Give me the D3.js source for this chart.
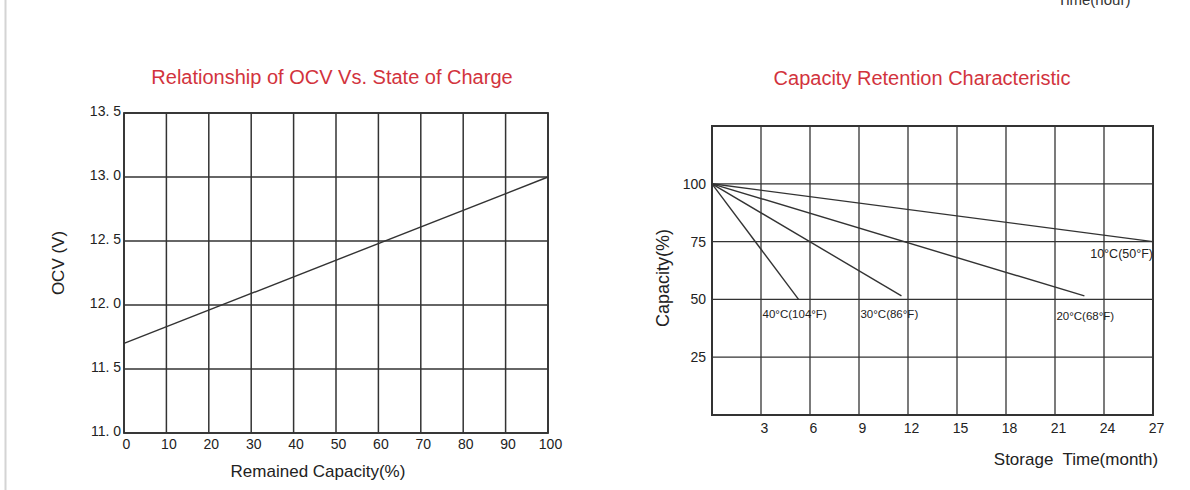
<!DOCTYPE html>
<html>
<head>
<meta charset="utf-8">
<script src="https://cdn.jsdelivr.net/npm/d3@7"></script>
<style>
  html, body { margin: 0; padding: 0; background: #fff; }
  svg { display: block; font-family: "Liberation Sans", Arial, sans-serif; }
</style>
</head>
<body>
<svg id="chart" width="1190" height="490"></svg>
<script>
// ---------- Data: OCV vs. State of Charge ----------
const ocvCapacity = [0, 100];            // Remained Capacity (%)
const ocvVoltage = [11.7, 13.0];         // OCV (V)
const ocvXTicks = [0, 10, 20, 30, 40, 50, 60, 70, 80, 90, 100];
const ocvYTicks = [11.0, 11.5, 12.0, 12.5, 13.0, 13.5];
const ocvYLabels = ["11. 0", "11. 5", "12. 0", "12. 5", "13. 0", "13. 5"];

// ---------- Data: Capacity Retention ----------
const retXTicks = [3, 6, 9, 12, 15, 18, 21, 24, 27];
const retGridX = [0, 3, 6, 9, 12, 15, 18, 21, 24, 27];
const retYTicks = [25, 50, 75, 100];
const retGridY = [0, 25, 50, 75, 100, 125];
const months40C = [0, 5.3];
const cap40C = [100, 50];
const months30C = [0, 11.6];
const cap30C = [100, 51.5];
const months20C = [0, 22.8];
const cap20C = [100, 51.5];
const months10C = [0, 27];
const cap10C = [100, 75];
const seriesNames = ["40°C(104°F)", "30°C(86°F)", "20°C(68°F)", "10°C(50°F)"];

const titleLeft = "Relationship of OCV Vs. State of Charge";
const titleRight = "Capacity Retention Characteristic";

// ---------- Drawing ----------
const svg = d3.select("#chart");
const ink = "#333";
const red = "#d2333d";
const FONT = "Liberation Sans, Arial, sans-serif";

svg.append("rect").attr("width", 1190).attr("height", 490).attr("fill", "#fff");
// left edge border strip
svg.append("line").attr("x1", 5.5).attr("x2", 5.5).attr("y1", 0).attr("y2", 490)
  .attr("stroke", "#d4d4d4").attr("stroke-width", 2);

// caption cut off at the very top (as in the source image)
svg.append("text").attr("x", 1094).attr("y", 5).attr("text-anchor", "middle")
  .attr("font-size", 15).attr("fill", "#333").text("Time(hour)");

// ===== Left chart =====
const xL = d3.scaleLinear().domain([0, 100]).range([124, 548]);
const yL = d3.scaleLinear().domain([11, 13.5]).range([433, 113]);

const gL = svg.append("g");
gL.selectAll("line.v").data(ocvXTicks).join("line")
  .attr("class", "v")
  .attr("x1", d => xL(d)).attr("x2", d => xL(d))
  .attr("y1", yL(11)).attr("y2", yL(13.5))
  .attr("stroke", ink).attr("stroke-width", 1.5);
gL.selectAll("line.h").data(ocvYTicks).join("line")
  .attr("class", "h")
  .attr("x1", xL(0)).attr("x2", xL(100))
  .attr("y1", d => yL(d)).attr("y2", d => yL(d))
  .attr("stroke", ink).attr("stroke-width", 1.5);
gL.append("rect").attr("x", xL(0)).attr("y", yL(13.5))
  .attr("width", xL(100) - xL(0)).attr("height", yL(11) - yL(13.5))
  .attr("fill", "none").attr("stroke", ink).attr("stroke-width", 1.8);

const axL = d3.axisLeft(yL).tickValues(ocvYTicks).tickSize(0).tickPadding(3)
  .tickFormat((d, i) => ocvYLabels[i]);
gL.append("g").attr("transform", `translate(${xL(0)},-2)`).call(axL)
  .call(g => g.select(".domain").remove())
  .call(g => g.selectAll("text").attr("font-size", 14).attr("fill", "#222")
    .attr("font-family", FONT));
const axB = d3.axisBottom(xL).tickValues(ocvXTicks).tickSize(0).tickPadding(6)
  .tickFormat(d3.format("d"));
gL.append("g").attr("transform", `translate(2,${yL(11)})`).call(axB)
  .call(g => g.select(".domain").remove())
  .call(g => g.selectAll("text").attr("font-size", 14).attr("fill", "#222")
    .attr("font-family", FONT));

const lineL = d3.line().x(d => xL(d[0])).y(d => yL(d[1]));
gL.append("path").datum(d3.zip(ocvCapacity, ocvVoltage))
  .attr("d", lineL).attr("fill", "none").attr("stroke", ink).attr("stroke-width", 1.4);

svg.append("text").attr("x", 332).attr("y", 84).attr("text-anchor", "middle")
  .attr("font-size", 20).attr("fill", red).text(titleLeft);
svg.append("text").attr("x", 318).attr("y", 477).attr("text-anchor", "middle")
  .attr("font-size", 17).attr("fill", "#222").text("Remained Capacity(%)");
svg.append("text").attr("transform", "translate(64,263) rotate(-90)")
  .attr("text-anchor", "middle").attr("font-size", 17).attr("fill", "#222").text("OCV (V)");

// ===== Right chart =====
const xR = d3.scaleLinear().domain([0, 27]).range([712, 1153]);
const yR = d3.scaleLinear().domain([0, 125]).range([415, 126]);
const gR = svg.append("g");

gR.selectAll("line.v").data(retGridX).join("line")
  .attr("class", "v")
  .attr("x1", d => xR(d)).attr("x2", d => xR(d))
  .attr("y1", yR(0)).attr("y2", yR(125))
  .attr("stroke", ink).attr("stroke-width", 1.3);
gR.selectAll("line.h").data(retGridY).join("line")
  .attr("class", "h")
  .attr("x1", xR(0)).attr("x2", xR(27))
  .attr("y1", d => yR(d)).attr("y2", d => yR(d))
  .attr("stroke", ink).attr("stroke-width", 1.3);
gR.append("rect").attr("x", xR(0)).attr("y", yR(125))
  .attr("width", xR(27) - xR(0)).attr("height", yR(0) - yR(125))
  .attr("fill", "none").attr("stroke", ink).attr("stroke-width", 2);

const axRL = d3.axisLeft(yR).tickValues(retYTicks).tickSize(0).tickPadding(6)
  .tickFormat(d3.format("d"));
gR.append("g").attr("transform", `translate(${xR(0)},0)`).call(axRL)
  .call(g => g.select(".domain").remove())
  .call(g => g.selectAll("text").attr("font-size", 14).attr("fill", "#222")
    .attr("font-family", FONT));
const axRB = d3.axisBottom(xR).tickValues(retXTicks).tickSize(0).tickPadding(8)
  .tickFormat(d3.format("d"));
gR.append("g").attr("transform", `translate(3,${yR(0)})`).call(axRB)
  .call(g => g.select(".domain").remove())
  .call(g => g.selectAll("text").attr("font-size", 14).attr("fill", "#222")
    .attr("font-family", FONT));

const lineR = d3.line().x(d => xR(d[0])).y(d => yR(d[1]));
const series = [
  d3.zip(months40C, cap40C),
  d3.zip(months30C, cap30C),
  d3.zip(months20C, cap20C),
  d3.zip(months10C, cap10C)
];
gR.selectAll("path.s").data(series).join("path")
  .attr("class", "s")
  .attr("d", lineR).attr("fill", "none").attr("stroke", ink).attr("stroke-width", 1.4);

const labelStyle = [
  { dx: -36, dy: 19, anchor: "start" },
  { dx: -41, dy: 22, anchor: "start" },
  { dx: -28, dy: 24, anchor: "start" },
  { dx: 0, dy: 16, anchor: "end" }
];
gR.selectAll("text.lab").data(series).join("text")
  .attr("class", "lab")
  .attr("x", (d, i) => xR(d[1][0]) + labelStyle[i].dx)
  .attr("y", (d, i) => yR(d[1][1]) + labelStyle[i].dy)
  .attr("text-anchor", (d, i) => labelStyle[i].anchor)
  .attr("font-size", (d, i) => i === 3 ? 12.5 : 11.5).attr("fill", "#222")
  .text((d, i) => seriesNames[i]);

svg.append("text").attr("x", 922).attr("y", 85).attr("text-anchor", "middle")
  .attr("font-size", 20).attr("fill", red).text(titleRight);
svg.append("text").attr("x", 1076).attr("y", 465).attr("text-anchor", "middle")
  .attr("font-size", 17).attr("fill", "#222").style("white-space", "pre")
  .text("Storage  Time(month)");
svg.append("text").attr("transform", "translate(669,278) rotate(-90)")
  .attr("text-anchor", "middle").attr("font-size", 18).attr("fill", "#222").text("Capacity(%)");
</script>
</body>
</html>
